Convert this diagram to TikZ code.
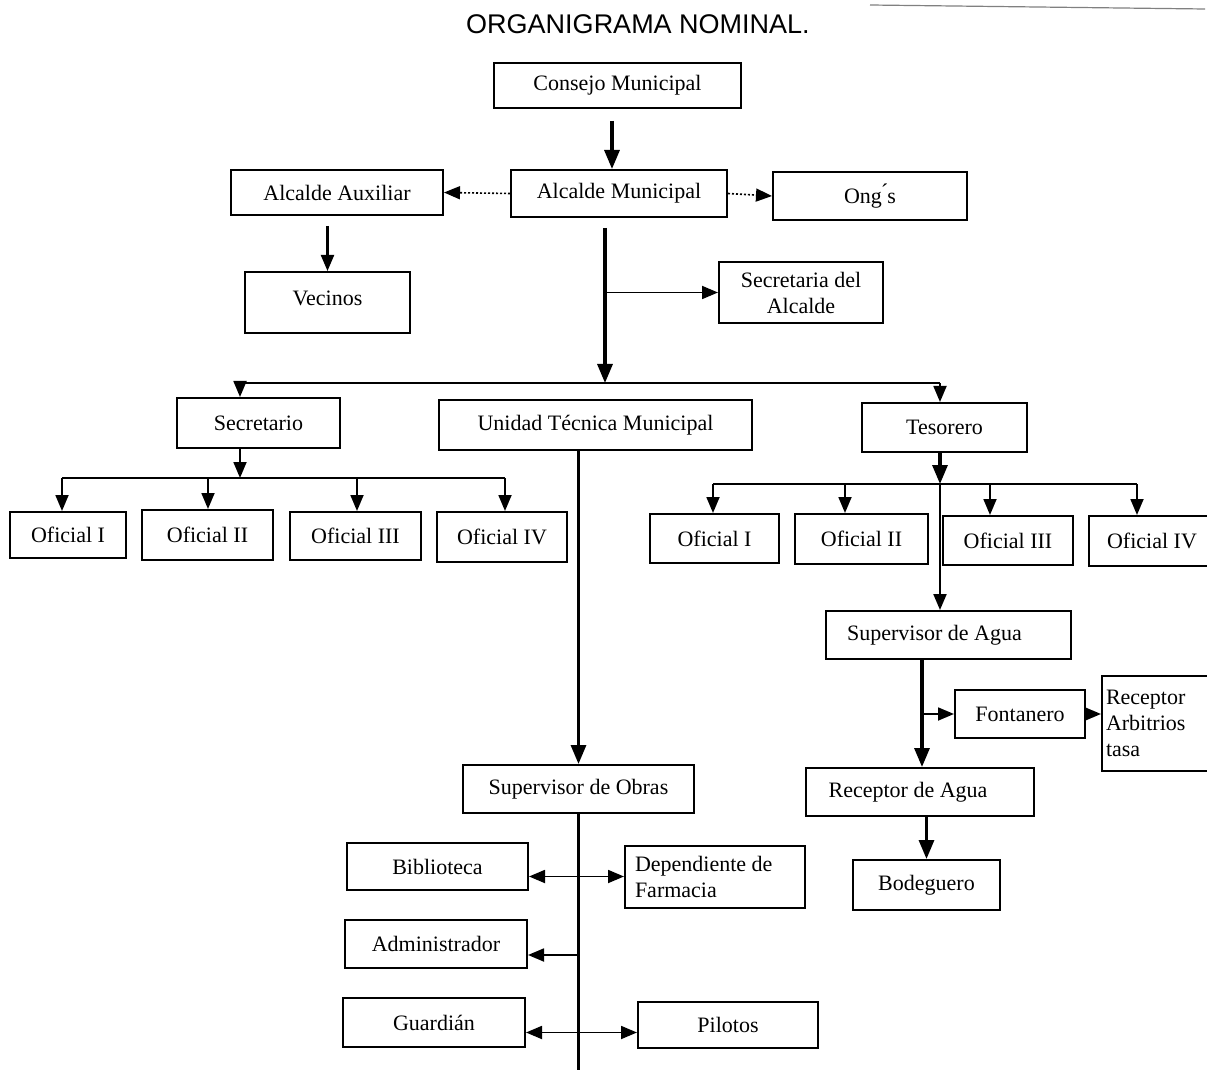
\documentclass[tikz,border=0pt]{standalone}
\usepackage{fontspec}
\setmainfont{Liberation Serif}
\newfontfamily\titlefont{Liberation Sans}
\usetikzlibrary{arrows.meta,calc}
\tikzset{
  box/.style={draw=black,line width=1pt,inner sep=0pt,font=\fontsize{11}{13}\selectfont,align=center},
  tip/.style={-{Triangle[width=6.5pt,length=8pt]}},
  bigtip/.style={-{Triangle[width=7.5pt,length=9.5pt]}},
  dtip/.style={{Triangle[width=6.5pt,length=8pt]}-{Triangle[width=6.5pt,length=8pt]}},
  conn/.style={line width=0.9pt},
  thick line/.style={line width=1.6pt},
  dotline/.style={line width=0.8pt,dash pattern=on 1pt off 1pt},
}
\begin{document}
\begin{tikzpicture}[x=0.5pt,y=-0.5pt]
\useasboundingbox (0,0) rectangle (1207,1070);
\fill[white] (0,0) rectangle (1207,1070);
\begin{scope}
\clip (0,0) rectangle (1207,1070);
% title
\node[font=\titlefont\fontsize{13.5}{15}\selectfont] (title) at (638,24) {ORGANIGRAMA NOMINAL.};
\coordinate (tl1) at (870,5);
\coordinate (tl2) at (1205,9);
\draw[gray,line width=0.6pt] (tl1) -- (tl2);

% boxes
\node[box,minimum width=123.5pt,minimum height=22.5pt] (cons) at (617.5,85.5) {Consejo Municipal};
\node[box,minimum width=108pt,minimum height=23.5pt] (alcm) at (619,193.5) {Alcalde Municipal};
\node[box,minimum width=106pt,minimum height=22.5pt] (alcx) at (337,192.5) {Alcalde Auxiliar};
\node[box,minimum width=97pt,minimum height=24pt] (ongs) at (870,196) {Ong\'{}s};
\node[box,minimum width=82.5pt,minimum height=30.5pt] (vec) at (327.5,302.5) {\raisebox{4pt}{Vecinos}};
\node[box,minimum width=82pt,minimum height=30.5pt] (seca) at (801,292.5) {Secretaria del\\Alcalde};
\node[box,minimum width=81.5pt,minimum height=25pt] (secr) at (258.5,423) {Secretario};
\node[box,minimum width=156.5pt,minimum height=25pt] (utm) at (595.5,425) {Unidad T\'ecnica Municipal};
\node[box,minimum width=82.5pt,minimum height=24.5pt] (tes) at (944.5,427.5) {Tesorero};

\node[box,minimum width=58pt,minimum height=23pt] (o1) at (68,535) {Oficial I};
\node[box,minimum width=65.5pt,minimum height=25pt] (o2) at (207.5,535) {Oficial II};
\node[box,minimum width=65.5pt,minimum height=24pt] (o3) at (355.5,536) {Oficial III};
\node[box,minimum width=65pt,minimum height=25pt] (o4) at (502,537) {Oficial IV};

\node[box,minimum width=64.5pt,minimum height=24.5pt] (p1) at (714.5,538.5) {Oficial I};
\node[box,minimum width=66.5pt,minimum height=25pt] (p2) at (861.5,539) {Oficial II};
\node[box,minimum width=65pt,minimum height=24.5pt] (p3) at (1008,540.5) {Oficial III};
\node[box,minimum width=63pt,minimum height=25pt] (p4) at (1152,541) {Oficial IV};

\node[box,minimum width=122.5pt,minimum height=24pt] (supa) at (948.5,635) {Supervisor de Agua\hspace*{14pt}};
\node[box,minimum width=65pt,minimum height=24pt] (font) at (1020,714) {Fontanero};
\node[box,minimum height=47.5pt,align=flush left,text width=60pt,inner xsep=2pt,inner ysep=0pt] (rarb) at (1166,723.5) {Receptor\\Arbitrios\\tasa};
\node[box,minimum width=114pt,minimum height=24pt] (ragu) at (920,792) {Receptor de Agua\hspace*{12pt}};
\node[box,minimum width=73.5pt,minimum height=25pt] (bod) at (926.5,885) {Bodeguero};

\node[box,minimum width=115.5pt,minimum height=24pt] (supo) at (578.5,789) {Supervisor de Obras};
\node[box,minimum width=90.5pt,minimum height=23.5pt] (bib) at (437.5,866.5) {Biblioteca};
\node[box,minimum height=31pt,align=flush left,text width=80pt,inner xsep=5pt] (dep) at (715,877) {Dependiente de\\Farmacia};
\node[box,minimum width=91pt,minimum height=24pt] (adm) at (436,944) {Administrador};
\node[box,minimum width=91pt,minimum height=24.5pt] (gua) at (434,1022.5) {Guardi\'an};
\node[box,minimum width=90pt,minimum height=23pt] (pil) at (728,1025) {Pilotos};

% junction coordinates
\coordinate (cx) at (612,0);
\coordinate (j1) at (605,383);
\coordinate (b1) at (605,290);
\coordinate (hl) at (240,383);
\coordinate (hr) at (940,383);
\coordinate (j2) at (240,478);
\coordinate (j2l) at (62,478);
\coordinate (j2b) at (208,478);
\coordinate (j2c) at (357,478);
\coordinate (j2r) at (505,478);
\coordinate (j3) at (940,484);
\coordinate (j3l) at (713,484);
\coordinate (j3b) at (845,484);
\coordinate (j3c) at (990,484);
\coordinate (j3r) at (1137,484);
\coordinate (b2) at (922,705);
\coordinate (endb) at (575,1072);

% connectors
\draw[thick line,bigtip,shorten <=6pt] (cons.south -| cx) -- (alcm.north -| cx);
\draw[dotline,tip] (alcm.west) -- (alcx.east);
\draw[dotline,tip] (alcm.east) -- (ongs.west);
\draw[conn,line width=1.1pt,tip,shorten <=5pt] (alcx.south -| vec.north) -- (vec.north);
\draw[thick line,bigtip,shorten <=5pt] (alcm.south -| j1) -- (j1);
\draw[conn,tip] (seca.west -| b1) -- (seca.west);
\draw[conn] (hl) -- (hr);
\draw[conn,tip] (hl) -- (hl |- secr.north);
\draw[conn,tip] (hr) -- (hr |- tes.north);

\draw[conn,tip] (secr.south -| j2) -- (j2);
\draw[conn] (j2l) -- (j2r);
\draw[conn,tip] (j2l) -- (j2l |- o1.north);
\draw[conn,tip] (j2b) -- (j2b |- o2.north);
\draw[conn,tip] (j2c) -- (j2c |- o3.north);
\draw[conn,tip] (j2r) -- (j2r |- o4.north);

\draw[thick line,bigtip] (utm.south -| supo.north) -- (supo.north);

\draw[thick line,bigtip] (tes.south -| j3) -- (j3);
\draw[conn] (j3l) -- (j3r);
\draw[conn,tip] (j3l) -- (j3l |- p1.north);
\draw[conn,tip] (j3b) -- (j3b |- p2.north);
\draw[conn,tip] (j3c) -- (j3c |- p3.north);
\draw[conn,tip] (j3r) -- (j3r |- p4.north);
\draw[conn,line width=1.1pt,tip] (j3) -- (j3 |- supa.north);

\draw[thick line,bigtip] (supa.south -| b2) -- (ragu.north -| b2);
\draw[conn,tip] (font.west -| b2) -- (font.west);
\draw[conn,tip] (font.east) -- (rarb.west |- font.east);
\draw[thick line,bigtip] (ragu.south -| bod.north) -- (bod.north);

\draw[thick line] (supo.south) -- (supo.south |- endb);
\draw[conn,dtip] ([yshift=-5pt]bib.east) -- ([yshift=-5pt]bib.east -| dep.west);
\draw[conn,tip] ([yshift=-5.5pt]adm.east -| supo.south) -- ([yshift=-5.5pt]adm.east);
\draw[conn,dtip] ([yshift=-5pt]gua.east) -- ([yshift=-5pt]gua.east -| pil.west);
\end{scope}
\end{tikzpicture}
\end{document}
